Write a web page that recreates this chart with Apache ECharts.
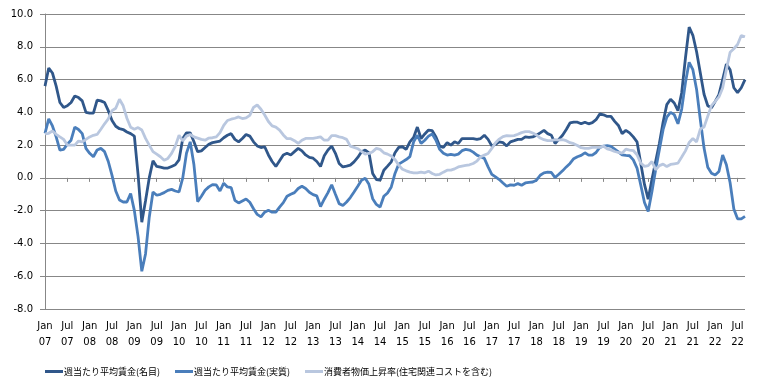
<!DOCTYPE html>
<html><head><meta charset="utf-8">
<script src="https://cdn.jsdelivr.net/npm/echarts@6/dist/echarts.min.js"></script>
<style>html,body{margin:0;padding:0;background:#fff}#c{width:760px;height:391px}</style>
</head><body><div id="c"></div>
<script>
// Monthly series, first point labelled Jan 07 (189 points)
const monthNames = ['Jan','Feb','Mar','Apr','May','Jun','Jul','Aug','Sep','Oct','Nov','Dec'];
const startYear = 7;
const nPoints = 189;
const categories = [];
for (let i = 0; i < nPoints; i++) {
  const y = startYear + Math.floor(i / 12);
  categories.push(monthNames[i % 12] + '\n' + String(y).padStart(2, '0'));
}
const yTicks = [-8, -6, -4, -2, 0, 2, 4, 6, 8, 10];
const seriesNames = ['週当たり平均賃金(名目)', '週当たり平均賃金(実質)', '消費者物価上昇率(住宅関連コストを含む)'];

const nominalWage = [
  5.6, 6.7, 6.4, 5.6, 4.6, 4.3, 4.4, 4.6, 5.0, 4.9, 4.7, 4.0,
  3.95, 3.95, 4.75, 4.7, 4.6, 4.1, 3.5, 3.15, 3.0, 2.95, 2.8, 2.7,
  2.55, 0.2, -2.7, -1.4, 0.0, 1.05, 0.7, 0.65, 0.6, 0.6, 0.7, 0.8,
  1.1, 2.4, 2.75, 2.75, 2.2, 1.6, 1.65, 1.85, 2.05, 2.15, 2.2, 2.25,
  2.45, 2.6, 2.7, 2.35, 2.2, 2.4, 2.65, 2.55, 2.2, 1.95, 1.85, 1.9,
  1.4, 1.0, 0.7, 1.05, 1.4, 1.5, 1.4, 1.6, 1.8, 1.65, 1.4, 1.25,
  1.2, 1.0, 0.7, 1.35, 1.7, 1.94, 1.5, 0.88, 0.67, 0.72, 0.78, 0.98,
  1.25, 1.6, 1.7, 1.53, 0.27, -0.1, -0.14, 0.47, 0.72, 0.98, 1.53, 1.86,
  1.9, 1.74, 2.2, 2.47, 3.1, 2.4, 2.68, 2.92, 2.88, 2.5, 1.94, 1.86,
  2.15, 2.0, 2.2, 2.1, 2.4, 2.4, 2.4, 2.4, 2.35, 2.4, 2.6, 2.35,
  1.95, 2.05, 2.2, 2.15, 1.95, 2.2, 2.27, 2.35, 2.35, 2.5, 2.47, 2.5,
  2.6, 2.75, 2.9, 2.7, 2.6, 2.1, 2.35, 2.6, 2.95, 3.35, 3.4, 3.4,
  3.3, 3.4, 3.3, 3.37, 3.55, 3.9, 3.85, 3.75, 3.75, 3.45, 3.2, 2.7,
  2.9, 2.75, 2.5, 2.2, 0.9, -0.4, -1.3, -0.1, 1.0, 2.1, 3.4, 4.47,
  4.8, 4.57, 4.1, 5.2, 7.3, 9.2, 8.7, 7.7, 6.4, 5.1, 4.4, 4.27,
  4.67, 5.08, 6.0, 6.95, 6.6, 5.5, 5.2, 5.5, 6.0
];
const realWage = [
  2.72, 3.6, 3.17, 2.5, 1.7, 1.74, 2.05, 2.3, 3.1, 2.95, 2.7, 1.8,
  1.5, 1.29, 1.7, 1.8, 1.6, 1.0, 0.15, -0.8, -1.35, -1.47, -1.47, -0.95,
  -2.0, -3.6, -5.7, -4.64, -2.4, -0.86, -1.06, -1.0, -0.9, -0.76, -0.7, -0.8,
  -0.86, 0.0, 1.5, 2.2, 0.8, -1.45, -1.12, -0.76, -0.55, -0.41, -0.43, -0.8,
  -0.32, -0.55, -0.6, -1.37, -1.53, -1.41, -1.29, -1.49, -1.88, -2.23, -2.38, -2.09,
  -1.98, -2.09, -2.09, -1.78, -1.51, -1.12, -1.0, -0.9, -0.65, -0.51, -0.65, -0.88,
  -1.02, -1.1, -1.75, -1.3, -0.9, -0.42, -1.0, -1.57, -1.68, -1.47, -1.2, -0.86,
  -0.51, -0.14, -0.02, -0.39, -1.27, -1.62, -1.78, -1.12, -0.92, -0.55, 0.27, 0.84,
  0.98, 1.12, 1.3, 2.2, 2.6, 2.1, 2.3, 2.55, 2.68, 2.3, 1.74, 1.5,
  1.39, 1.43, 1.39, 1.45, 1.66, 1.74, 1.7, 1.57, 1.39, 1.29, 1.19, 0.67,
  0.22, 0.06, -0.1, -0.31, -0.51, -0.43, -0.45, -0.35, -0.45, -0.31, -0.27, -0.25,
  -0.14, 0.16, 0.31, 0.35, 0.33, 0.02, 0.22, 0.43, 0.67, 0.88, 1.17, 1.29,
  1.37, 1.53, 1.39, 1.39, 1.55, 1.86, 1.94, 1.97, 1.92, 1.76, 1.59, 1.41,
  1.37, 1.35, 1.1, 0.6, -0.43, -1.5, -2.05, -0.84, 0.49, 1.71, 2.94, 3.71,
  4.0, 3.86, 3.3, 4.2, 5.8, 7.05, 6.6, 5.4, 3.55, 1.82, 0.65, 0.29,
  0.18, 0.39, 1.4, 0.8, -0.3, -1.9, -2.5, -2.5, -2.35
];
const cpih = [
  2.68, 2.72, 2.86, 2.66, 2.5, 2.35, 2.0, 2.0, 2.0, 2.25, 2.2, 2.35,
  2.5, 2.6, 2.65, 2.97, 3.3, 3.6, 4.1, 4.25, 4.8, 4.4, 3.64, 3.09,
  2.97, 3.07, 2.92, 2.41, 2.0, 1.6, 1.45, 1.29, 1.08, 1.19, 1.5, 1.94,
  2.6, 2.25, 2.55, 2.65, 2.5, 2.43, 2.35, 2.3, 2.43, 2.45, 2.5, 2.76,
  3.2, 3.5, 3.58, 3.64, 3.72, 3.62, 3.66, 3.82, 4.3, 4.45, 4.19, 3.84,
  3.44, 3.17, 3.1, 2.92, 2.62, 2.39, 2.39, 2.27, 2.1, 2.3, 2.41, 2.41,
  2.41, 2.45, 2.5, 2.3, 2.3, 2.58, 2.58, 2.5, 2.45, 2.35, 1.94, 1.86,
  1.78, 1.62, 1.45, 1.49, 1.6, 1.8, 1.74, 1.53, 1.45, 1.33, 1.12, 0.78,
  0.53, 0.43, 0.35, 0.31, 0.31, 0.35, 0.31, 0.41, 0.27, 0.18, 0.22, 0.35,
  0.47, 0.47, 0.55, 0.67, 0.72, 0.76, 0.8, 0.88, 1.02, 1.29, 1.39, 1.49,
  1.8, 2.15, 2.37, 2.52, 2.58, 2.56, 2.58, 2.66, 2.76, 2.82, 2.82, 2.74,
  2.62, 2.43, 2.33, 2.27, 2.27, 2.33, 2.31, 2.33, 2.27, 2.15, 2.09, 1.98,
  1.84, 1.8, 1.8, 1.86, 1.86, 1.86, 1.94, 1.77, 1.71, 1.61, 1.55, 1.51,
  1.75, 1.7, 1.67, 1.41, 0.9, 0.7, 0.75, 1.0, 0.5, 0.75, 0.84, 0.69,
  0.82, 0.86, 0.9, 1.27, 1.65, 2.16, 2.4, 2.2, 2.98, 3.1, 3.76, 4.41,
  4.67, 4.94, 5.49, 6.61, 7.67, 7.88, 8.14, 8.69, 8.61
];

const colors = ['#30578a', '#4a7ebb', '#b9c7df'];
const gray = '#878787';
const font = '"DejaVu Sans", Verdana, sans-serif';
const cjkFont = '"Noto Sans CJK JP", sans-serif';

const chart = echarts.init(document.getElementById('c'), null, {renderer: 'canvas'});
const legendLefts = [40, 170, 300];
chart.setOption({
  animation: false,
  color: colors,
  grid: {left: 45, right: 15, top: 14, bottom: 82, containLabel: false},
  legend: seriesNames.map((n, k) => ({
    data: [n], left: legendLefts[k], top: 362, icon: 'rect',
    itemWidth: 18, itemHeight: 3, itemGap: 2,
    textStyle: {fontFamily: cjkFont, fontSize: 9, color: '#000', padding: [0, 0, 0, -4]}
  })),
  xAxis: [
    {
      type: 'category', data: categories, boundaryGap: false, position: 'bottom',
      axisLine: {onZero: true, lineStyle: {color: gray, width: 1}},
      axisTick: {show: true, interval: 5, length: 4, lineStyle: {color: gray}},
      axisLabel: {show: false}, splitLine: {show: false}
    },
    {
      type: 'category', data: categories, boundaryGap: false, position: 'bottom',
      axisLine: {show: false, onZero: false}, axisTick: {show: false},
      axisLabel: {interval: 5, margin: 9, fontFamily: font, fontSize: 10, lineHeight: 16, color: '#000'},
      splitLine: {show: false}
    }
  ],
  yAxis: {
    type: 'value', min: yTicks[0], max: yTicks[yTicks.length - 1], interval: 2,
    axisLine: {show: true, lineStyle: {color: gray}},
    axisTick: {show: true, length: 5, lineStyle: {color: gray}},
    axisLabel: {formatter: v => v.toFixed(1), margin: 12, fontFamily: font, fontSize: 10, color: '#000'},
    splitLine: {lineStyle: {color: gray, width: 1}}
  },
  series: [
    {name: seriesNames[0], type: 'line', data: nominalWage, showSymbol: false, symbol: 'none', lineStyle: {width: 2.8, color: colors[0]}, z: 3},
    {name: seriesNames[1], type: 'line', data: realWage, showSymbol: false, symbol: 'none', lineStyle: {width: 2.8, color: colors[1]}, z: 3},
    {name: seriesNames[2], type: 'line', data: cpih, showSymbol: false, symbol: 'none', lineStyle: {width: 2.8, color: colors[2]}, z: 3}
  ]
});
</script></body></html>
